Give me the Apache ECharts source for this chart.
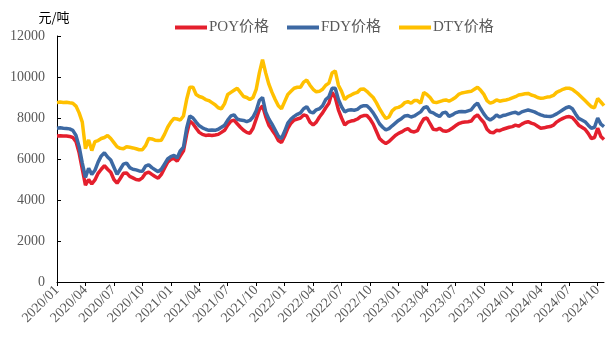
<!DOCTYPE html>
<html>
<head>
<meta charset="utf-8">
<script src="https://cdn.jsdelivr.net/npm/echarts@6/dist/echarts.min.js"></script>
<style>
  html, body { margin: 0; padding: 0; background: #fff; }
  #chart { width: 606px; height: 337px; }
</style>
</head>
<body>
<div id="chart"></div>
<script>
// Polyester filament prices, yuan per tonne, sampled on the 1st, 11th and 21st of each month from 2020/01
const seriesNames = ['POY价格', 'FDY价格', 'DTY价格'];
const seriesColors = ['#E41F2D', '#3D69A3', '#FFC000'];

const poy = [
  7120, 7130, 7120, 7120, 7100, 7050, 6850, 6300, 5500, 4720, 5000, 4780,
  4980, 5300, 5500, 5680, 5500, 5350, 5000, 4820, 5050, 5300, 5320, 5150,
  5080, 5000, 4980, 5080, 5300, 5360, 5250, 5150, 5060, 5250, 5550, 5850,
  5980, 6030, 5900, 6150, 6400, 7200, 7850, 7720, 7500, 7300, 7200, 7150,
  7170, 7150, 7170, 7200, 7300, 7400, 7650, 7850, 7900, 7720, 7550, 7400,
  7300, 7250, 7500, 7950, 8400, 8600, 8070, 7650, 7420, 7200, 6900, 6800,
  7120, 7500, 7750, 7900, 7950, 8000, 8150, 8100, 7800, 7660, 7800, 8050,
  8250, 8500, 8720, 9250, 9000, 8400, 8000, 7660, 7800, 7850, 7880, 7950,
  8070, 8120, 8120, 7950, 7700, 7350, 7000, 6850, 6760, 6850, 7000, 7150,
  7250, 7320, 7420, 7480, 7350, 7320, 7380, 7700, 7950, 8000, 7720, 7450,
  7420, 7500, 7380, 7350, 7400, 7500, 7620, 7720, 7780, 7800, 7820, 7850,
  8050, 8150, 7950, 7780, 7450, 7300, 7280, 7400, 7380, 7450, 7500, 7550,
  7580, 7650, 7600, 7700, 7780, 7820, 7750, 7700, 7600, 7500, 7520, 7560,
  7580, 7650, 7800, 7900, 7980, 8050, 8070, 8020, 7850, 7650, 7550, 7450,
  7250, 7000, 7050, 7500, 7100, 6950
];

const fdy = [
  7500, 7520, 7500, 7490, 7470, 7400, 7150, 6600, 5800, 5100, 5550, 5250,
  5450, 5850, 6150, 6300, 6100, 5950, 5600, 5250, 5500, 5750, 5800, 5580,
  5500, 5470, 5420, 5400, 5650, 5720, 5580, 5480, 5380, 5500, 5750, 6000,
  6120, 6180, 6050, 6400, 6580, 7500, 8100, 8000, 7800, 7620, 7520, 7450,
  7400, 7420, 7400, 7450, 7550, 7650, 7900, 8100, 8150, 7950, 7900, 7880,
  7820, 7880, 8050, 8350, 8850, 9000, 8300, 7950, 7700, 7410, 7120, 7000,
  7350, 7750, 7950, 8080, 8180, 8250, 8450, 8550, 8300, 8250, 8400, 8450,
  8600, 8900, 9040, 9450, 9450, 8900, 8550, 8300, 8380, 8400, 8380, 8420,
  8550, 8600, 8600, 8450, 8250, 8000, 7720, 7550, 7420, 7480, 7620, 7750,
  7880, 7980, 8100, 8120, 8050, 8100, 8200, 8300, 8500, 8550, 8300, 8250,
  8150, 8070, 8250, 8280, 8080, 8150, 8250, 8300, 8320, 8300, 8350, 8400,
  8600, 8720, 8450, 8200, 8000, 7900, 8000, 8150, 8050, 8120, 8150, 8200,
  8250, 8280, 8200, 8300, 8350, 8390, 8350, 8300, 8220, 8150, 8100, 8080,
  8070, 8120, 8200, 8300, 8400, 8500, 8550, 8450, 8200, 7980, 7900, 7820,
  7650, 7500, 7550, 8000, 7700, 7580
];

const dty = [
  8750, 8780, 8760, 8770, 8740, 8720, 8580, 8250, 7800, 6500, 6930, 6410,
  6850, 6900, 7000, 7050, 7150, 7000, 6800, 6600, 6520, 6500, 6600, 6570,
  6540, 6500, 6450, 6450, 6650, 7000, 6980, 6920, 6900, 6920, 7200, 7550,
  7800, 7980, 7950, 7900, 8100, 8900, 9500, 9500, 9150, 9050, 9000, 8900,
  8850, 8750, 8650, 8500, 8450, 8700, 9150, 9250, 9350, 9450, 9250, 9050,
  9000, 8900, 9000, 9400, 10200, 10850, 10200, 9650, 9250, 8900, 8600, 8450,
  8800, 9150, 9300, 9450, 9500, 9500, 9750, 9850, 9600, 9400, 9280, 9300,
  9400, 9600, 9700, 10200, 10300, 9600, 9300, 8900, 9050, 9120, 9200, 9250,
  9400, 9420, 9300, 9150, 9000, 8750, 8450, 8200, 7980, 8050, 8350, 8480,
  8520, 8600, 8750, 8800, 8720, 8850, 8850, 8720, 9250, 9150, 9000, 8780,
  8750, 8800, 8850, 8880, 8820, 8900, 9000, 9150, 9220, 9250, 9280, 9300,
  9400, 9500, 9350, 9150, 8850, 8720, 8780, 8880, 8820, 8850, 8880, 8920,
  8980, 9040, 9120, 9150, 9180, 9200, 9120, 9080, 9000, 8960, 8980, 9020,
  9040, 9100, 9250, 9320, 9400, 9450, 9450, 9400, 9280, 9150, 9000, 8850,
  8700, 8550, 8500, 8950, 8780, 8600
];

// Sample dates (three per month)
const sampleDays = [1, 11, 21];
const dates = [];
for (let i = 0; i < poy.length; i++) {
  const monthIndex = Math.floor(i / 3);
  const year = 2020 + Math.floor(monthIndex / 12);
  const month = monthIndex % 12 + 1;
  dates.push(year + '-' + String(month).padStart(2, '0') + '-' + String(sampleDays[i % 3]).padStart(2, '0'));
}

// Horizontal position measured in months since 2020/01
function monthPos(dateStr) {
  const [y, m, d] = dateStr.split('-').map(Number);
  return (y - 2020) * 12 + (m - 1) + sampleDays.indexOf(d) / 3;
}
const xPos = dates.map(monthPos);

function monthLabel(v) {
  const y = 2020 + Math.floor(v / 12);
  const m = Math.round(v % 12) + 1;
  return y + '/' + String(m).padStart(2, '0');
}

const serif = "'Liberation Serif', 'Noto Sans CJK SC', serif";
const values = [poy, fdy, dty];

const chart = echarts.init(document.getElementById('chart'), null, { renderer: 'canvas' });
chart.setOption({
  animation: false,
  backgroundColor: '#fff',
  color: seriesColors,
  legend: {
    top: 15,
    left: 170,
    icon: 'rect',
    itemWidth: 32,
    itemHeight: 4,
    itemGap: 18,
    textStyle: { fontFamily: serif, fontSize: 15, color: '#595959', padding: [0, 0, 0, -3] },
    data: seriesNames
  },
  grid: { left: 57, right: 2, top: 36, bottom: 55, containLabel: false },
  xAxis: {
    type: 'value',
    min: 0,
    max: xPos[xPos.length - 1],
    interval: 3,
    axisLine: { show: true, lineStyle: { color: '#000', width: 1 } },
    axisTick: { show: true, length: 4, lineStyle: { color: '#000' } },
    splitLine: { show: false },
    axisLabel: {
      rotate: 45,
      margin: 6,
      fontFamily: serif,
      fontSize: 14,
      color: '#595959',
      formatter: monthLabel
    }
  },
  yAxis: {
    type: 'value',
    min: 0,
    max: 12000,
    interval: 2000,
    name: '元/吨',
    nameLocation: 'end',
    nameGap: 12,
    nameTextStyle: { fontFamily: "'Noto Sans CJK SC', sans-serif", fontSize: 13, color: '#000', padding: [0, 6, 0, 0] },
    axisLine: { show: true, lineStyle: { color: '#000', width: 1 } },
    axisTick: { show: true, inside: true, length: 4, lineStyle: { color: '#000' } },
    splitLine: { show: false },
    axisLabel: { margin: 12, fontFamily: serif, fontSize: 14, color: '#595959', formatter: v => String(v) }
  },
  series: seriesNames.map((name, s) => ({
    name: name,
    type: 'line',
    showSymbol: false,
    symbol: 'none',
    lineStyle: { width: 3.5, color: seriesColors[s] },
    itemStyle: { color: seriesColors[s] },
    data: xPos.map((x, i) => [x, values[s][i]])
  }))
});
</script>
</body>
</html>
